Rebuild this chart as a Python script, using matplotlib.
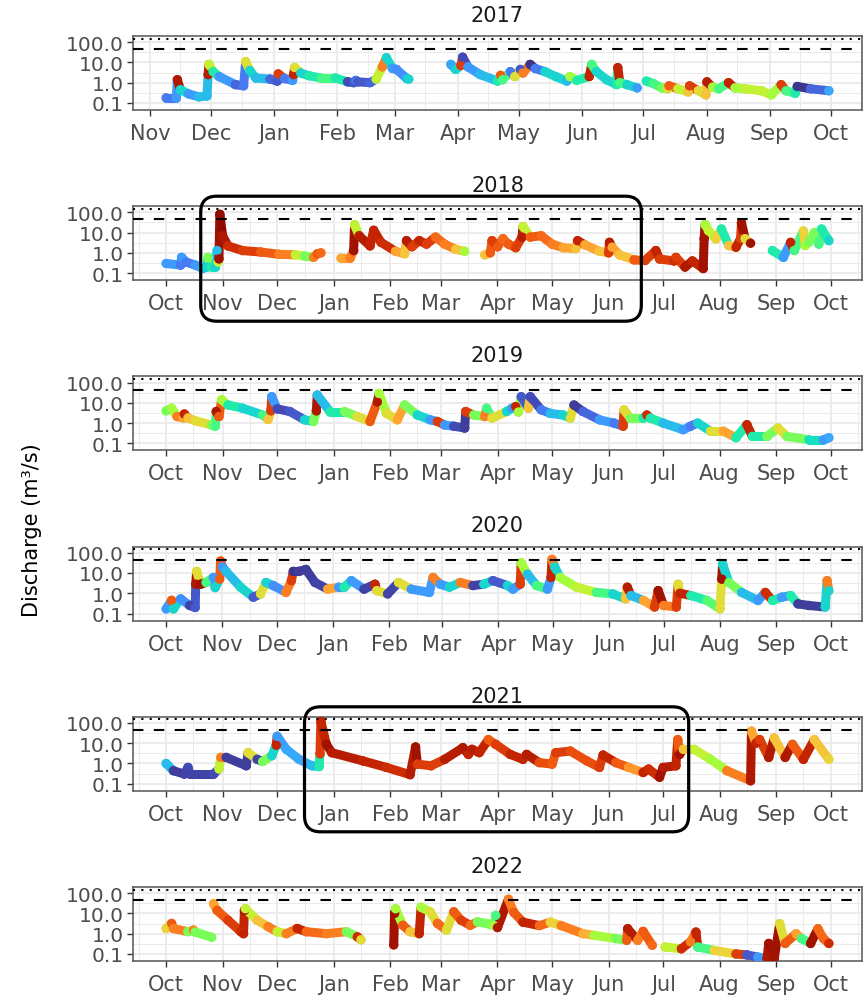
import matplotlib
matplotlib.use('Agg')
import matplotlib.pyplot as plt
import matplotlib.dates as mdates
import numpy as np
from matplotlib.collections import LineCollection
from matplotlib.colors import Normalize
from matplotlib.patches import FancyBboxPatch
from matplotlib.ticker import FixedLocator, FuncFormatter

plt.rcParams['font.family'] = ['DejaVu Sans']

NA = np.nan
years = [2017, 2018, 2019, 2020, 2021, 2022]

# day of water year (from Oct 1 of previous year), discharge (m3/s), colour value (0-1)
# NA in discharge marks a gap in the record
day_2017 = [39, 44, 44.5, 46, 50, 55, 59, 59.6, 60, 62, 65, 73, 77, 78, 80, 83, 90, 93.5, 94, 97, 101,
            101.5, 102, 105, 109, 115, 122, 128, 131, 132, 133, 139, 142, 145, 147, 150, 152, 157, 158,
            170,
            178.6, 181, 183.5, 184.4, 187, 193, 201.5, 203, 204, 207.8, 210, 212.7, 214, 217.5, 220,
            224.8, 230, 235.5, 237, 240.4, 246.5, 247.7, 250, 255, 259.9, 260.5, 261.5, 265, 270,
            272,
            274.5, 278, 282, 285, 285.6, 290, 295, 295.7, 300, 303.7, 304.2, 307, 310, 314.8, 318,
            323, 331, 335.8, 340.6, 343, 347.5, 348.5, 355, 364]
q_2017 = [0.18, 0.18, 1.4, 0.45, 0.28, 0.2, 0.22, 2.5, 8, 3.5, 2.0, 0.8, 0.7, 11, 4, 1.7, 1.5, 1.2, 2.7,
          1.6, 1.3, 2.5, 5.6, 3, 2.2, 1.7, 1.7, 1.1, 1.0, 1.3, 1.1, 1.0, 1.5, 6, 17, 5, 4.5, 1.6, 1.5,
          NA,
          8, 4.5, 7, 18, 6, 2.5, 1.2, 2.3, 1.4, 3.5, 2, 4.5, 3, 8, 5, 3.5, 2, 1.2, 2, 1.3, 2, 8, 3.5,
          1.4, 0.8, 5.5, 1.0, 0.8, 0.55,
          NA,
          1.2, 0.9, 0.55, 0.5, 0.7, 0.5, 0.35, 0.7, 0.4, 0.25, 1.1, 0.6, 0.5, 1.0, 0.55, 0.5, 0.4,
          0.25, 0.8, 0.4, 0.3, 0.65, 0.5, 0.4]
c_2017 = [0.15, 0.2, 0.93, 0.3, 0.2, 0.25, 0.25, 0.92, 0.55, 0.35, 0.2, 0.12, 0.15, 0.6, 0.3, 0.25,
          0.12, 0.1, 0.85, 0.15, 0.2, 0.9, 0.6, 0.3, 0.35, 0.4, 0.35, 0.08, 0.1, 0.15, 0.1, 0.12, 0.55,
          0.75, 0.3, 0.2, 0.18, 0.25, 0.3,
          NA,
          0.22, 0.3, 0.85, 0.08, 0.2, 0.25, 0.35, 0.8, 0.4, 0.15, 0.6, 0.1, 0.75, 0.05, 0.15, 0.3,
          0.3, 0.25, 0.5, 0.35, 0.9, 0.4, 0.3, 0.3, 0.35, 0.9, 0.4, 0.3, 0.2,
          NA,
          0.35, 0.4, 0.45, 0.6, 0.8, 0.55, 0.65, 0.85, 0.6, 0.65, 0.92, 0.5, 0.4, 0.9, 0.5, 0.55,
          0.55, 0.5, 0.85, 0.4, 0.35, 0.05, 0.12, 0.22]

day_2018 = [0, 8, 8.5, 11, 16, 20, 22.5, 23, 25, 27, 28, 28.5, 29, 29.5, 31, 34, 42, 52, 62, 71, 76,
            81, 83, 85,
            90,
            96, 101, 103, 103.5, 106, 112, 114, 118, 126, 131, 132, 135, 139, 143, 148, 153, 159, 164,
            170,
            175, 178, 179, 182, 185, 188, 192, 195.5, 196, 200, 206, 212, 218, 225, 226, 230, 238,
            243, 243.5, 245, 249, 257, 263, 269, 271, 279, 280, 285, 289, 295, 295.5, 296, 298, 302,
            305, 309, 313, 315.5, 316, 318, 321,
            327,
            333, 339, 343, 345, 350, 351, 353, 356, 358.5, 360, 364]
q_2018 = [0.3, 0.25, 0.6, 0.35, 0.25, 0.17, 0.2, 0.6, 0.2, 0.2, 1.3, 0.35, 0.5, 80, 7, 2.2, 1.3, 1.1,
          0.85, 0.8, 0.7, 0.6, 0.9, 1.0,
          NA,
          0.55, 0.55, 1.3, 24, 7, 2.2, 13, 3.3, 1.2, 0.9, 4, 2, 4, 2.7, 6, 2.7, 1.5, 1.2,
          NA,
          0.8, 1.0, 4, 2, 5, 2.7, 1.8, 6, 20, 6, 7, 2.7, 1.8, 1.6, 4, 2.5, 1.2, 1.0, 3.3, 1.9, 0.8,
          0.45, 0.42, 1.3, 0.5, 0.4, 0.6, 0.2, 0.4, 0.17, 5, 25, 12, 4.8, 15, 2.3, 1.9, 5, 30, 5, 3,
          NA,
          1.3, 0.6, 3.3, 1.3, 12, 2.3, 3.3, 10, 2.7, 15, 4]
c_2018 = [0.2, 0.15, 0.2, 0.15, 0.2, 0.25, 0.3, 0.45, 0.35, 0.3, 0.25, 0.55, 0.95, 0.97, 0.93, 0.88,
          0.85, 0.8, 0.75, 0.55, 0.45, 0.75, 0.8, 0.78,
          NA,
          0.7, 0.75, 0.95, 0.55, 0.92, 0.9, 0.9, 0.88, 0.7, 0.65, 0.92, 0.85, 0.9, 0.85, 0.78, 0.75,
          0.65, 0.5,
          NA,
          0.65, 0.8, 0.85, 0.8, 0.78, 0.8, 0.85, 0.92, 0.55, 0.8, 0.78, 0.75, 0.7, 0.65, 0.9, 0.7,
          0.65, 0.85, 0.92, 0.7, 0.65, 0.8, 0.85, 0.9, 0.85, 0.88, 0.85, 0.93, 0.9, 0.95, 0.95,
          0.5, 0.55, 0.62, 0.35, 0.65, 0.9, 0.85, 0.95, 0.6, 0.95,
          NA,
          0.35, 0.2, 0.9, 0.4, 0.62, 0.5, 0.45, 0.45, 0.4, 0.35, 0.3]

day_2019 = [0, 3, 6, 9.5, 10, 12, 16, 25, 27, 27.5, 29, 30.5, 34, 42, 53, 56, 57.5, 58, 61, 68, 76,
            81, 82.5, 83, 90, 98, 105, 112, 116, 117, 121, 127, 131, 138, 145, 149, 153, 158, 164,
            164.5, 169, 175, 176, 179, 187, 190, 192, 193.5, 195, 199, 200, 206, 211, 218, 222, 224,
            229, 238, 246, 251, 251.5, 255, 262, 264, 266, 273, 284, 288, 292, 299, 306, 313, 319,
            322, 330, 336, 341, 353, 361, 364]
q_2019 = [4, 5.4, 2.1, 1.8, 2.8, 1.8, 1.3, 0.8, 0.7, 3.7, 2.1, 14, 7.8, 5.4, 2.5, 1.5, 4, 20, 5, 3.7,
          1.45, 1.2, 4, 24, 3.7, 3.7, 2.1, 1.2, 11, 29, 3, 1.45, 7.8, 2.5, 1.45, 1.2, 0.8, 0.7, 0.57,
          3.7, 2.5, 2.1, 5.4, 1.75, 3.7, 5.4, 6.5, 3.5, 20, 5.4, 20, 4.5, 3, 2.5, 1.75, 7.8, 3.7,
          1.45, 1.0, 0.7, 4.5, 1.75, 1.75, 2.5, 1.75, 1.0, 0.47, 0.7, 1.0, 0.4, 0.4, 0.19, 0.83,
          0.22, 0.22, 0.57, 0.22, 0.15, 0.15, 0.19]
c_2019 = [0.45, 0.5, 0.75, 0.7, 0.9, 0.65, 0.6, 0.45, 0.4, 0.93, 0.8, 0.5, 0.35, 0.3, 0.4, 0.65,
          0.85, 0.2, 0.08, 0.1, 0.3, 0.45, 0.93, 0.25, 0.35, 0.45, 0.6, 0.8, 0.93, 0.5, 0.6, 0.7,
          0.45, 0.3, 0.2, 0.85, 0.2, 0.08, 0.06, 0.85, 0.45, 0.75, 0.4, 0.6, 0.3, 0.2, 0.9, 0.5,
          0.1, 0.65, 0.08, 0.15, 0.25, 0.3, 0.6, 0.06, 0.12, 0.2, 0.15, 0.85, 0.6, 0.45, 0.35,
          0.88, 0.35, 0.25, 0.2, 0.15, 0.3, 0.6, 0.7, 0.35, 0.9, 0.35, 0.45, 0.6, 0.45, 0.32,
          0.2, 0.22]

day_2020 = [0, 3, 4, 8, 13, 16, 16.3, 16.8, 19, 22, 26, 27, 29.5, 30, 31, 33, 41, 48, 52, 55, 59,
            66, 69, 70, 73, 77, 82, 89, 95, 98, 102, 109, 115, 116, 122, 128, 135, 145, 147, 151,
            156, 162, 169, 175, 180, 188, 191, 195, 195.5, 199, 204, 210, 212, 212.5, 214, 217, 226,
            237, 246, 253, 254, 256, 263, 269, 271, 274, 281, 282, 283, 289, 298, 305, 306, 306.5,
            310, 317, 326, 330, 334, 339, 344, 348, 354, 363, 364, 365]
q_2020 = [0.17, 0.45, 0.17, 0.53, 0.25, 0.2, 2.8, 12, 2.8, 3.4, 6, 1.9, 5, 39, 20, 12, 2, 0.64, 0.93,
          3.4, 2.4, 1.1, 4.2, 12, 12, 15, 3.4, 1.6, 2.0, 2.0, 4.2, 1.6, 2.8, 1.35, 0.93, 3.4, 1.6,
          1.1, 6, 2.8, 2.0, 3.4, 2.4, 2.8, 4.2, 2.4, 1.6, 2.8, 32, 8.7, 2.4, 1.6, 6, 47, 20, 6, 2.0,
          1.1, 0.93, 0.53, 2.0, 0.77, 0.44, 0.21, 1.35, 0.25, 0.21, 2.8, 1.0, 0.77, 0.44, 0.17, 5,
          27, 3.4, 1.1, 0.44, 1.1, 0.44, 0.64, 0.77, 0.3, 0.25, 0.21, 4.2, 1.35]
c_2020 = [0.2, 0.8, 0.3, 0.18, 0.07, 0.1, 0.93, 0.6, 0.95, 0.4, 0.2, 0.3, 0.8, 0.8, 0.2, 0.25, 0.3,
          0.1, 0.6, 0.3, 0.18, 0.75, 0.85, 0.05, 0.06, 0.06, 0.07, 0.7, 0.2, 0.35, 0.2, 0.07, 0.9,
          0.6, 0.07, 0.6, 0.2, 0.2, 0.75, 0.2, 0.3, 0.75, 0.07, 0.3, 0.1, 0.3, 0.2, 0.85, 0.5,
          0.25, 0.4, 0.2, 0.9, 0.75, 0.3, 0.5, 0.55, 0.4, 0.3, 0.65, 0.92, 0.25, 0.7, 0.85, 0.95,
          0.75, 0.85, 0.6, 0.9, 0.35, 0.42, 0.6, 0.95, 0.3, 0.45, 0.25, 0.2, 0.88, 0.35, 0.2, 0.35,
          0.06, 0.06, 0.3, 0.75, 0.3]

day_2021 = [0, 4, 10, 12, 13, 26, 29, 30, 33, 44, 45, 50, 53, 58, 60.5, 61, 66, 73, 80, 84, 84.5, 85,
            88, 91, 108, 121, 134, 137, 138, 145.5, 153, 163, 166, 168, 172, 177, 181, 189, 196,
            198, 205, 212, 214, 222, 231, 238, 240, 247, 254, 262, 265, 271, 273, 280, 281, 282,
            284, 290, 299, 308, 321, 321.5, 324, 326, 331, 334, 340, 344, 350, 356, 364]
q_2021 = [1.0, 0.44, 0.3, 0.64, 0.3, 0.3, 0.53, 2.0, 2.0, 0.77, 3.4, 1.6, 1.25, 2.4, 8, 22, 5, 1.6,
          0.77, 0.7, 3, 120, 8.8, 3.4, 1.35, 0.64, 0.28, 6.5, 0.93, 0.77, 1.6, 6, 2.8, 5, 3.4, 15,
          8.8, 2.8, 1.6, 2.8, 1.1, 0.93, 3.4, 4.1, 1.35, 0.64, 2.6, 1.1, 0.64, 0.36, 0.53, 0.21,
          0.64, 0.77, 15, 2.8, 5, 5, 1.6, 0.44, 0.14, 39, 10, 15, 2, 18, 2, 8.8, 1.6, 15, 1.6]
c_2021 = [0.25, 0.06, 0.07, 0.08, 0.07, 0.08, 0.55, 0.75, 0.06, 0.06, 0.6, 0.07, 0.45, 0.3, 0.9,
          0.2, 0.22, 0.22, 0.25, 0.35, 0.85, 0.9, 0.95, 0.92, 0.9, 0.88, 0.92, 0.95, 0.85, 0.85,
          0.92, 0.93, 0.9, 0.92, 0.9, 0.8, 0.85, 0.9, 0.9, 0.92, 0.82, 0.8, 0.85, 0.82, 0.82, 0.85,
          0.9, 0.8, 0.72, 0.9, 0.88, 0.95, 0.92, 0.9, 0.8, 0.95, 0.65, 0.55, 0.5, 0.75, 0.93, 0.7,
          0.9, 0.85, 0.93, 0.65, 0.93, 0.8, 0.9, 0.65, 0.62]

day_2022 = [0, 3, 4, 12, 15, 16, 25,
            25.5,
            26, 28, 34, 41, 42.5, 43, 43.5, 50, 56, 61, 66, 72, 77, 88, 99, 105, 107,
            115,
            125, 125.5, 126, 130, 134, 139, 140, 145, 149, 154, 158, 162, 167, 171, 176, 180, 181,
            182, 188, 191, 196, 205, 211, 217, 229, 235, 247, 253, 253.5, 259, 262, 267,
            270,
            274, 283, 288, 291, 292, 301, 313, 319, 325, 330, 331, 334, 337, 340, 346, 349, 354,
            358, 361, 364]
q_2022 = [1.8, 3.2, 1.8, 1.25, 1.5, 1.2, 0.66,
          NA,
          30, 14, 4.6, 1.25, 1.0, 14, 17, 4.6, 2.2, 1.25, 1.0, 1.8, 1.25, 1.0, 1.25, 0.7, 0.5,
          NA,
          0.28, 10, 17, 2.6, 1.25, 1.0, 20, 12, 3.2, 1.5, 12, 4.6, 2.6, 3.8, 3.2, 2.5, 8, 2, 50,
          11, 3.7, 2.5, 3.7, 2.5, 1.0, 0.83, 0.57, 0.47, 1.75, 0.47, 1.3, 0.27,
          NA,
          0.22, 0.18, 0.4, 1.2, 0.22, 0.15, 0.1, 0.09, 0.07, 0.06, 0.33, 0.06, 3.1, 0.33, 1.0,
          0.57, 0.33, 1.75, 0.57, 0.33]
c_2022 = [0.62, 0.8, 0.75, 0.45, 0.75, 0.45, 0.45,
          NA,
          0.7, 0.8, 0.85, 0.88, 0.9, 0.95, 0.55, 0.65, 0.75, 0.55, 0.75, 0.9, 0.78, 0.75, 0.45,
          0.88, 0.6,
          NA,
          0.95, 0.95, 0.5, 0.8, 0.65, 0.9, 0.5, 0.6, 0.78, 0.6, 0.8, 0.85, 0.78, 0.45, 0.45, 0.5,
          0.4, 0.93, 0.75, 0.8, 0.9, 0.78, 0.62, 0.75, 0.68, 0.5, 0.45, 0.8, 0.92, 0.75, 0.8, 0.78,
          NA,
          0.55, 0.88, 0.75, 0.9, 0.4, 0.62, 0.85, 0.1, 0.2, 0.93, 0.95, 0.95, 0.6, 0.8, 0.7, 0.4,
          0.95, 0.78, 0.78, 0.88]

series = {2017: (day_2017, q_2017, c_2017), 2018: (day_2018, q_2018, c_2018),
          2019: (day_2019, q_2019, c_2019), 2020: (day_2020, q_2020, c_2020),
          2021: (day_2021, q_2021, c_2021), 2022: (day_2022, q_2022, c_2022)}

threshold_dashed = 45
threshold_dotted = 150

# highlighted periods (drawn as rounded boxes)
box_years = [2018, 2021]
box_start = ['2017-10-20', '2020-12-16']
box_end = ['2018-06-19', '2021-07-15']

W, H, DPI = 864, 1003, 100
fig = plt.figure(figsize=(W / DPI, H / DPI), dpi=DPI)
norm = Normalize(0, 1)
axes = {}

for i, yr in enumerate(years):
    top = 37 + 170.2 * i
    ax = fig.add_axes([133 / W, 1 - (top + 74) / H, 729 / W, 74 / H])
    axes[yr] = ax
    day, q, c = (np.array(a, dtype=float) for a in series[yr])
    t = mdates.date2num(np.datetime64(f'{yr - 1}-10-01')) + day

    segs, cols = [], []
    for k in range(len(t) - 1):
        if np.isfinite(q[k]) and np.isfinite(q[k + 1]):
            segs.append([(t[k], q[k]), (t[k + 1], q[k + 1])])
            cols.append(c[k])
    lc = LineCollection(segs, cmap='turbo', norm=norm, linewidths=6.5,
                        capstyle='round', joinstyle='round', zorder=3)
    lc.set_array(np.array(cols))
    ax.add_collection(lc)
    ok = np.isfinite(q)
    ax.scatter(t[ok], q[ok], c=c[ok], cmap='turbo', norm=norm, s=46, lw=0, zorder=4)

    ax.axhline(threshold_dashed, color='black', lw=1.5, ls=(0, (5, 5)), zorder=5)
    ax.axhline(threshold_dotted, color='black', lw=1.5, ls=(0, (1, 3)), zorder=5)

    ax.set_yscale('log')
    ax.set_ylim(0.045, 200)
    tmin, tmax = np.nanmin(t[ok]), np.nanmax(t[ok])
    pad = 0.05 * (tmax - tmin)
    ax.set_xlim(tmin - pad, tmax + pad)

    ax.yaxis.set_major_locator(FixedLocator([0.1, 1, 10, 100]))
    ax.yaxis.set_minor_locator(FixedLocator([10 ** -1.5, 10 ** -0.5, 10 ** 0.5, 10 ** 1.5]))
    ax.yaxis.set_major_formatter(FuncFormatter(lambda v, p: f'{v:.1f}'))
    ax.xaxis.set_major_locator(mdates.MonthLocator())
    ax.xaxis.set_minor_locator(mdates.MonthLocator(bymonthday=16))
    ax.xaxis.set_major_formatter(mdates.DateFormatter('%b'))

    ax.grid(True, which='major', color='#EBEBEB', lw=1.3, zorder=0)
    ax.grid(True, which='minor', color='#EBEBEB', lw=0.7, zorder=0)
    ax.set_axisbelow(True)
    ax.tick_params(which='major', length=4.3, width=1.0, color='#333333', labelcolor='#4D4D4D')
    ax.tick_params(which='minor', length=0)
    ax.tick_params(axis='x', labelsize=15, pad=5)
    ax.tick_params(axis='y', labelsize=14.5, pad=2.5)
    for s in ax.spines.values():
        s.set_color('#555555')
        s.set_linewidth(1.1)
    ax.set_title(str(yr), fontsize=15, pad=11, color='#1A1A1A')

fig.text(32 / W, 1 - 530 / H, 'Discharge (m³/s)', rotation=90, fontsize=15,
         ha='center', va='center')

for yr, s0, s1 in zip(box_years, box_start, box_end):
    ax = axes[yr]
    x0 = ax.transData.transform((mdates.date2num(np.datetime64(s0)), 1))[0]
    x1 = ax.transData.transform((mdates.date2num(np.datetime64(s1)), 1))[0]
    bb = ax.get_position()
    y0 = bb.y0 * H - 41
    y1 = bb.y1 * H + 10
    box = FancyBboxPatch((x0 / DPI, y0 / DPI), (x1 - x0) / DPI, (y1 - y0) / DPI,
                         boxstyle='round,pad=0,rounding_size=0.16', transform=fig.dpi_scale_trans,
                         fill=False, ec='black', lw=2.3, zorder=10)
    fig.add_artist(box)

fig.savefig('out.png', dpi=DPI)
